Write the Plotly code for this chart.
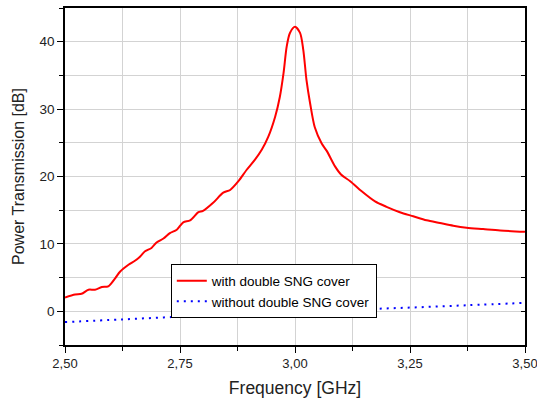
import plotly.graph_objects as go

# Curva con cubierta doble SNG
freq_con = [2.500, 2.522, 2.536, 2.551, 2.565, 2.580, 2.594, 2.609, 2.620, 2.638,
            2.652, 2.663, 2.674, 2.688, 2.699, 2.714, 2.728, 2.743, 2.757, 2.772,
            2.790, 2.800, 2.822, 2.844, 2.859, 2.877, 2.895, 2.913, 2.928, 2.942,
            2.957, 2.967, 2.975, 2.982, 2.989, 3.000, 3.011, 3.018, 3.025, 3.033,
            3.043, 3.058, 3.069, 3.087, 3.100, 3.120, 3.145, 3.174, 3.199, 3.228,
            3.257, 3.286, 3.315, 3.344, 3.373, 3.409, 3.446, 3.500]
db_con = [2.05, 2.5, 2.6, 3.2, 3.2, 3.6, 3.7, 4.9, 5.9, 6.9,
          7.5, 8.1, 8.9, 9.4, 10.2, 10.8, 11.6, 12.1, 13.2, 13.5,
          14.7, 14.9, 16.1, 17.6, 18.0, 19.3, 21.0, 22.5, 24.0, 25.9,
          28.9, 31.8, 35.3, 39.3, 41.3, 42.2, 41.3, 38.8, 34.3, 30.8,
          27.3, 24.9, 23.8, 21.5, 20.3, 19.3, 17.8, 16.3, 15.5, 14.7,
          14.1, 13.5, 13.1, 12.7, 12.4, 12.2, 12.0, 11.8]

# Curva sin cubierta
freq_sin = [2.500, 2.625, 2.750, 2.875, 3.000, 3.125, 3.250, 3.375, 3.500]
db_sin = [-1.6, -1.2, -0.8, -0.45, -0.1, 0.25, 0.55, 0.9, 1.25]

# ticks
x_ticks = [2.50, 2.75, 3.00, 3.25, 3.50]
x_labels = ['2,50', '2,75', '3,00', '3,25', '3,50']
y_ticks = [0, 10, 20, 30, 40]

font = "Liberation Sans, Arial, sans-serif"

trace1 = go.Scatter(x=freq_con, y=db_con, mode='lines', name='with double SNG cover',
                    line=dict(color='red', width=2, shape='spline', smoothing=0.8))
trace2 = go.Scatter(x=freq_sin, y=db_sin, mode='lines', name='without double SNG cover',
                    line=dict(color='blue', width=2, dash='2px,5px', shape='spline'))
# eje derecho solo para los ticks internos
trace3 = go.Scatter(x=[2.5], y=[0], mode='markers', marker=dict(opacity=0),
                    showlegend=False, hoverinfo='skip', yaxis='y2')

fig = go.Figure(data=[trace1, trace2, trace3])
fig.update_layout(
    width=537, height=405,
    margin=dict(l=65, r=12, t=8, b=60, autoexpand=False),
    paper_bgcolor='white', plot_bgcolor='white',
    font=dict(family=font, size=13.5, color='#222'),
    xaxis=dict(range=[2.5, 3.50001], tickvals=x_ticks, ticktext=x_labels,
               ticklabeloverflow='allow', tickfont=dict(size=13),
               showgrid=True, gridcolor='#d3d3d3', gridwidth=1,
               ticks='outside', ticklen=6, tickcolor='black', tickwidth=1,
               showline=True, linecolor='black', linewidth=1.5, mirror=True,
               zeroline=False, automargin=False,
               minor=dict(tickvals=[2.625, 2.875, 3.125, 3.375], showgrid=True,
                          gridcolor='#d3d3d3', ticks='outside', ticklen=4, tickcolor='black'),
               title=dict(text='Frequency [GHz]', font=dict(size=17.5), standoff=11)),
    yaxis=dict(range=[-5, 45], tickvals=y_ticks,
               showgrid=True, gridcolor='#d3d3d3', gridwidth=1,
               ticks='outside', ticklen=6, tickcolor='black', tickwidth=1,
               showline=True, linecolor='black', linewidth=1.5, mirror=True,
               zeroline=False, automargin=False,
               minor=dict(tickvals=[-5, 5, 15, 25, 35, 45], showgrid=True,
                          gridcolor='#d3d3d3', ticks='outside', ticklen=4, tickcolor='black'),
               title=dict(text='Power Transmission [dB]', font=dict(size=16), standoff=11)),
    yaxis2=dict(range=[-5, 45], dtick=5, overlaying='y', side='right',
                showticklabels=False, showgrid=False, zeroline=False, automargin=False,
                ticks='inside', ticklen=4, tickcolor='black'),
    legend=dict(x=0.23, y=0.239, xanchor='left', yanchor='top',
                bgcolor='white', bordercolor='black', borderwidth=1,
                font=dict(size=13.5, color='black'), tracegroupgap=0),
    showlegend=True,
)

# quitamos el margen por defecto del body para que la figura ocupe toda la ventana
fig.write_html("out.html", config={'displayModeBar': False},
               post_script="document.body.style.margin='0';")
